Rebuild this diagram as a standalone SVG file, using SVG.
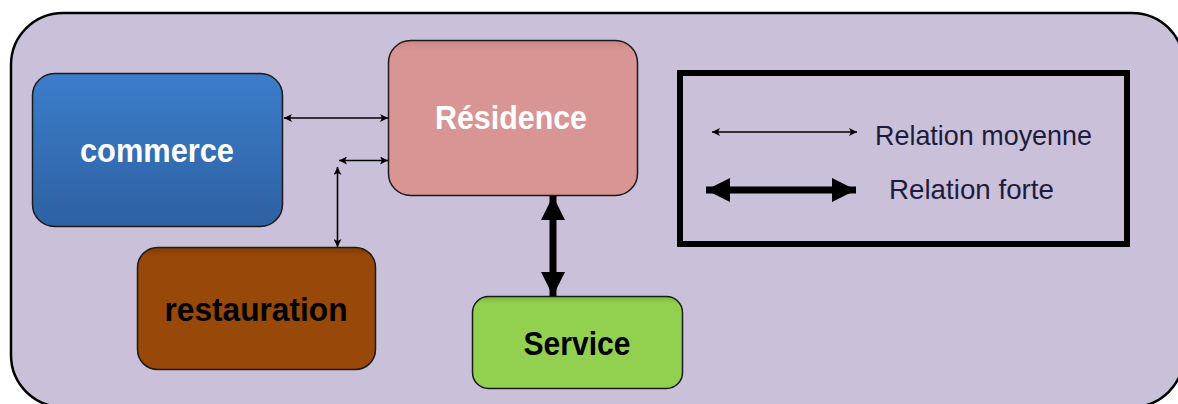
<svg xmlns="http://www.w3.org/2000/svg" width="1178" height="404" viewBox="0 0 1178 404">
  <style>
    .box { stroke: #1a1a1a; stroke-width: 1.5; }
    .label { font-family: "Liberation Sans", Arial, sans-serif; font-weight: bold; text-anchor: middle; }
    .legend-text { font-family: "Liberation Sans", Arial, sans-serif; font-size: 28px; fill: #1c1c3c; }
    .thin { stroke: #000; stroke-width: 1.6; fill: none; }
    .thick { stroke: #000; stroke-width: 7; fill: none; }
  </style>
  <defs>
    <marker id="head-thin" viewBox="0 0 10 10" refX="10" refY="5" markerWidth="9" markerHeight="8" markerUnits="userSpaceOnUse" orient="auto-start-reverse">
      <path d="M0,0 L10,5 L0,10 L2.5,5 Z" fill="#000"/>
    </marker>
    <marker id="head-thick" viewBox="0 0 10 10" refX="10" refY="5" markerWidth="24" markerHeight="26" markerUnits="userSpaceOnUse" orient="auto-start-reverse">
      <path d="M0,0 L10,5 L0,10 Z" fill="#000"/>
    </marker>
    <linearGradient id="g-commerce" x1="0" y1="0" x2="0" y2="1">
      <stop offset="0" stop-color="#3c7dcb"/>
      <stop offset="1" stop-color="#2d61a2"/>
    </linearGradient>
    <linearGradient id="g-res" x1="0" y1="0" x2="0" y2="1">
      <stop offset="0" stop-color="#c98584"/>
      <stop offset="0.06" stop-color="#d99594"/>
      <stop offset="1" stop-color="#d99594"/>
    </linearGradient>
    <linearGradient id="g-rest" x1="0" y1="0" x2="0" y2="1">
      <stop offset="0" stop-color="#7e3b05"/>
      <stop offset="0.07" stop-color="#984808"/>
      <stop offset="1" stop-color="#984808"/>
    </linearGradient>
    <linearGradient id="g-serv" x1="0" y1="0" x2="0" y2="1">
      <stop offset="0" stop-color="#7db840"/>
      <stop offset="0.08" stop-color="#92d050"/>
      <stop offset="1" stop-color="#92d050"/>
    </linearGradient>
  </defs>

  <rect width="1178" height="404" fill="#ffffff"/>

  <!-- outer frame -->
  <rect x="11" y="13" width="1173" height="394" rx="52" ry="52" fill="#cbc0da" stroke="#000" stroke-width="2.5"/>

  <g id="commerce">
    <rect class="box" x="32.5" y="73.5" width="250" height="153" rx="22" fill="url(#g-commerce)"/>
    <text class="label" x="157" y="162" font-size="33" fill="#ffffff" textLength="154" lengthAdjust="spacingAndGlyphs">commerce</text>
  </g>

  <g id="residence">
    <rect class="box" x="388.5" y="40.5" width="249" height="155" rx="22" fill="url(#g-res)"/>
    <text class="label" x="511" y="129" font-size="33" fill="#ffffff" textLength="152" lengthAdjust="spacingAndGlyphs">Résidence</text>
  </g>

  <g id="restauration">
    <rect class="box" x="137.5" y="247.5" width="238" height="122" rx="20" fill="url(#g-rest)"/>
    <text class="label" x="256" y="321" font-size="33" fill="#000000" textLength="183" lengthAdjust="spacingAndGlyphs">restauration</text>
  </g>

  <g id="service">
    <rect class="box" x="472.5" y="296.5" width="210" height="92" rx="16" fill="url(#g-serv)"/>
    <text class="label" x="577" y="355" font-size="33" fill="#000000" textLength="107" lengthAdjust="spacingAndGlyphs">Service</text>
  </g>

  <g id="connectors">
    <line class="thin" x1="284" y1="118" x2="388" y2="118" marker-start="url(#head-thin)" marker-end="url(#head-thin)"/>
    <line class="thin" x1="339" y1="160.5" x2="388" y2="160.5" marker-start="url(#head-thin)" marker-end="url(#head-thin)"/>
    <line class="thin" x1="337.5" y1="167" x2="337.5" y2="247" marker-start="url(#head-thin)" marker-end="url(#head-thin)"/>
    <line class="thick" x1="553" y1="196" x2="553" y2="296" marker-start="url(#head-thick)" marker-end="url(#head-thick)"/>
  </g>

  <g id="legend">
    <rect x="680" y="73" width="447" height="171" fill="none" stroke="#000" stroke-width="6"/>
    <line class="thin" x1="712" y1="132" x2="857" y2="132" marker-start="url(#head-thin)" marker-end="url(#head-thin)"/>
    <text class="legend-text" x="875" y="145" textLength="217" lengthAdjust="spacingAndGlyphs">Relation moyenne</text>
    <line class="thick" x1="706" y1="190" x2="856" y2="190" marker-start="url(#head-thick)" marker-end="url(#head-thick)"/>
    <text class="legend-text" x="889" y="199" textLength="165" lengthAdjust="spacingAndGlyphs">Relation forte</text>
  </g>
</svg>
